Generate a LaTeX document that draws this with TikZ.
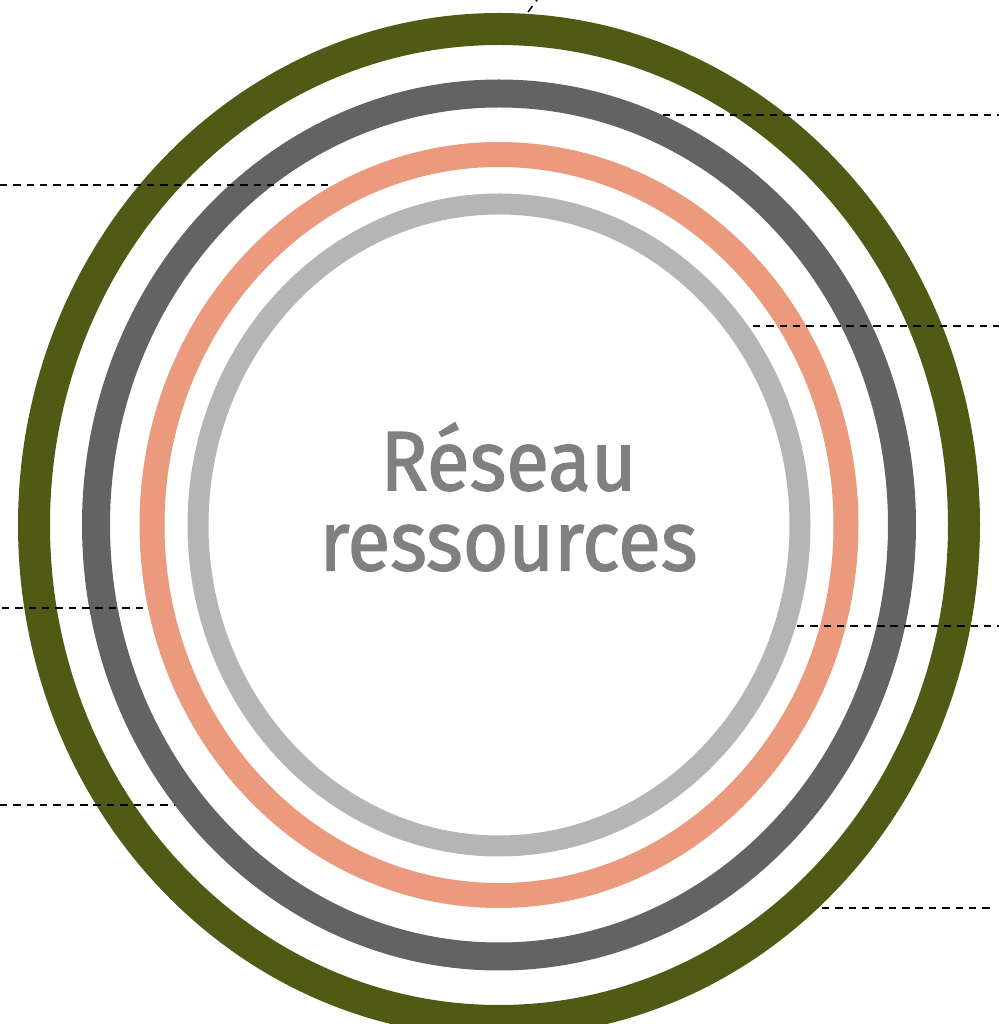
\documentclass[tikz,border=0pt]{standalone}
\usepackage{fontspec}
\newfontfamily\ringfont[FakeBold=1.6, FakeStretch=0.93]{Fira Sans}
\usepackage{tikz}
\usetikzlibrary{calc}

\definecolor{ringgreen}{RGB}{81,90,21}
\definecolor{ringdark}{RGB}{99,99,99}
\definecolor{ringsalmon}{RGB}{236,154,126}
\definecolor{ringlight}{RGB}{181,181,181}
\definecolor{labelgray}{RGB}{128,128,128}

\begin{document}
\begin{tikzpicture}[
  ring/.style = {line width=#1},
  leader/.style = {line width=0.45pt, dash pattern=on 2.1pt off 1.7pt},
  title/.style = {text=labelgray, align=center, font=\ringfont\fontsize{24}{22.8}\selectfont}
  ]
	\useasboundingbox (0,0) rectangle (9.99,10.24);

	\coordinate (o) at (4.99,4.99);

	\draw[ring=0.32cm, ringgreen] (o) ellipse [x radius=4.65, y radius=4.96];
	\draw[ring=0.28cm, ringdark] (o) ellipse [x radius=4.03, y radius=4.315];
	\draw[ring=0.25cm, ringsalmon] (o) ellipse [x radius=3.47, y radius=3.705];
	\draw[ring=0.21cm, ringlight] (o) ellipse [x radius=3.01, y radius=3.21];

	\node[title] (t) at (5.085,5.27) {Réseau\\ressources};

	% leader lines
	\coordinate (l1a) at (0,8.39);    \coordinate (l1b) at (3.30,8.39);
	\coordinate (r1a) at (6.63,9.09); \coordinate (r1b) at (9.99,9.09);
	\coordinate (r2a) at (7.53,6.98); \coordinate (r2b) at (9.99,6.98);
	\coordinate (l2a) at (0.02,4.16); \coordinate (l2b) at (1.45,4.16);
	\coordinate (r3a) at (7.97,3.98); \coordinate (r3b) at (9.99,3.98);
	\coordinate (l3a) at (0,2.19);    \coordinate (l3b) at (1.75,2.19);
	\coordinate (r4a) at (8.22,1.16); \coordinate (r4b) at (9.90,1.16);
	\coordinate (ta) at (5.28,10.12); \coordinate (tb) at (5.40,10.28);

	\draw[leader] (l1a) -- (l1b);
	\draw[leader] (r1a) -- (r1b);
	\draw[leader] (r2a) -- (r2b);
	\draw[leader] (l2a) -- (l2b);
	\draw[leader] (r3a) -- (r3b);
	\draw[leader] (l3a) -- (l3b);
	\draw[leader] (r4a) -- (r4b);
	\draw[leader] (ta) -- (tb);

\end{tikzpicture}
\end{document}
